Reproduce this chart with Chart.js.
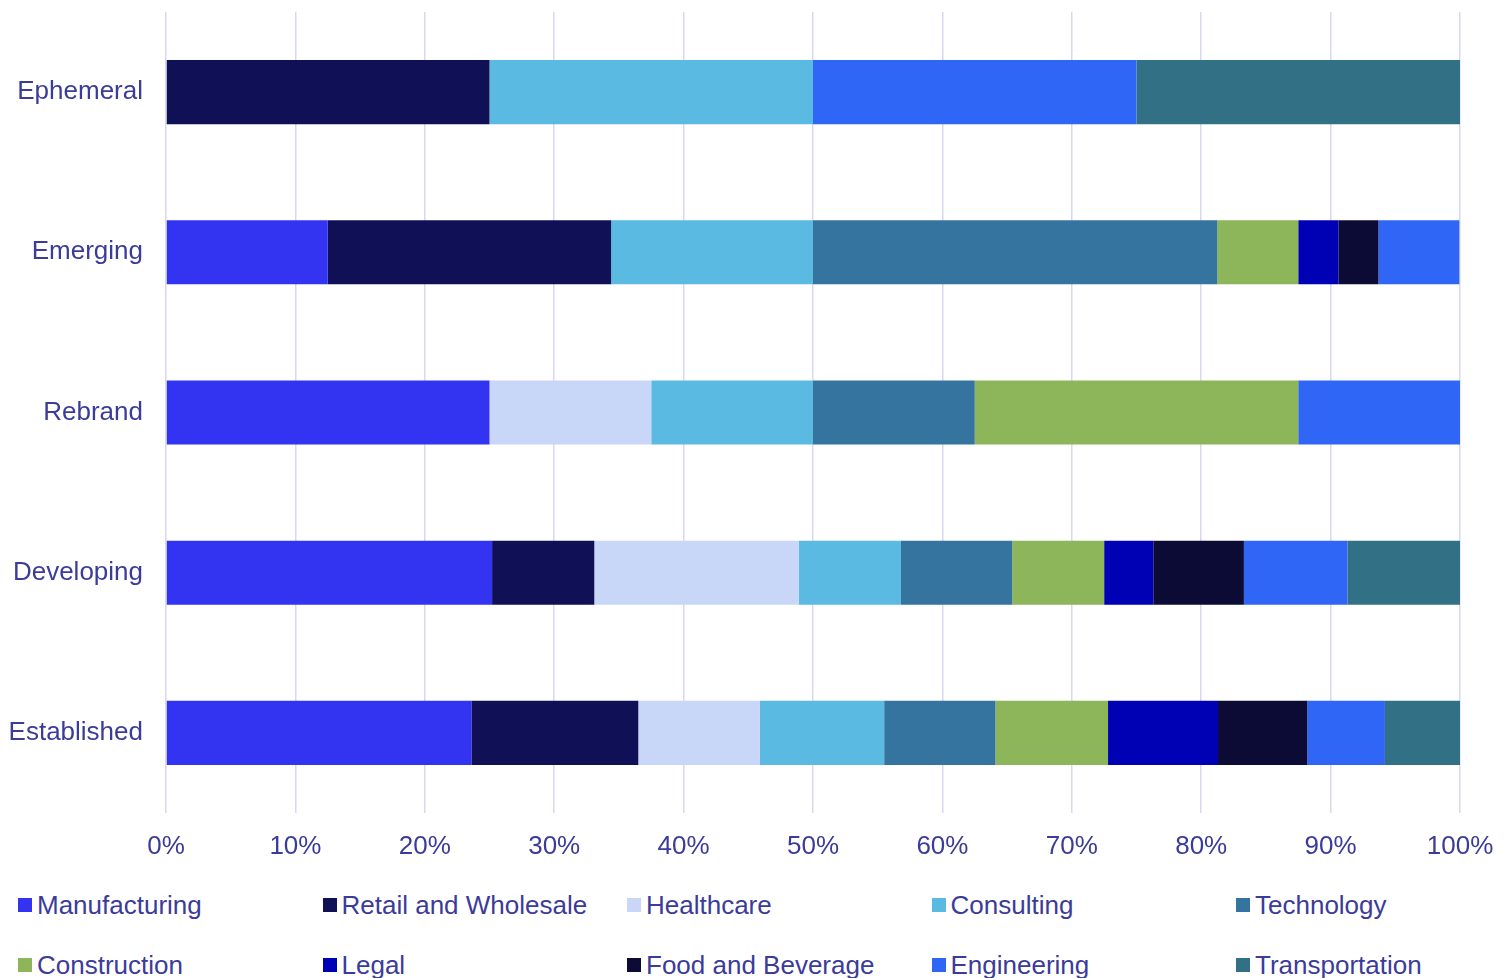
<!DOCTYPE html>
<html>
<head>
<meta charset="utf-8">
<script src="https://cdn.jsdelivr.net/npm/chart.js@4/dist/chart.umd.min.js"></script>
<style>
    html, body { margin: 0; padding: 0; background: #fff; overflow: hidden; }
    #wrap { position: relative; width: 1510px; height: 880px; }
    #legend {
        position: absolute; left: 18px; top: 886px;
        display: grid; grid-template-columns: repeat(5, 304.5px); row-gap: 22px;
        font-family: "Liberation Sans", Arial, sans-serif; font-size: 26px; color: #3B3B9A;
    }
    #legend .item { display: flex; align-items: center; height: 38px; white-space: nowrap; }
    #legend .box { width: 14px; height: 14px; margin-right: 5px; flex: none; }
</style>
</head>
<body>
<div id="wrap"><canvas id="chart"></canvas></div>
<div id="legend"></div>
<script>
// categories (top to bottom)
const categories = ['Ephemeral', 'Emerging', 'Rebrand', 'Developing', 'Established'];

// share of each industry per category, in %
const manufacturing  = [0,    12.5,  25,   25.2, 23.6];
const retail         = [25,   21.9,  0,    7.9,  12.9];
const healthcare     = [0,    0,     12.5, 15.8, 9.4];
const consulting     = [25,   15.6,  12.5, 7.9,  9.6];
const technology     = [0,    31.25, 12.5, 8.6,  8.6];
const construction   = [0,    6.25,  25,   7.1,  8.7];
const legal          = [0,    3.1,   0,    3.8,  8.5];
const foodBeverage   = [0,    3.1,   0,    7.0,  6.9];
const engineering    = [25,   6.25,  12.5, 8.0,  6.0];
const transportation = [25,   0,     0,    8.7,  5.8];

const xTicks = [0, 10, 20, 30, 40, 50, 60, 70, 80, 90, 100];

const series = [
    { label: 'Manufacturing',       data: manufacturing,  color: '#3333F2' },
    { label: 'Retail and Wholesale', data: retail,        color: '#0F1055' },
    { label: 'Healthcare',          data: healthcare,     color: '#C8D7F8' },
    { label: 'Consulting',          data: consulting,     color: '#5ABAE2' },
    { label: 'Technology',          data: technology,     color: '#35749F' },
    { label: 'Construction',        data: construction,   color: '#8DB55A' },
    { label: 'Legal',               data: legal,          color: '#0000B4' },
    { label: 'Food and Beverage',   data: foodBeverage,   color: '#0B0B36' },
    { label: 'Engineering',         data: engineering,    color: '#2F66F5' },
    { label: 'Transportation',      data: transportation, color: '#327086' }
];

const textColor = '#3B3B9A';
const gridColor = '#D8D8F0';
const font = { family: '"Liberation Sans", Arial, sans-serif', size: 26 };

// drop the auto label padding so the plot box sits where the reference has it
function noPad(axis) {
    axis.paddingTop = 0;
    axis.paddingBottom = 0;
    axis.paddingLeft = 0;
    axis.paddingRight = 0;
}

new Chart(document.getElementById('chart'), {
    type: 'bar',
    data: {
        labels: categories,
        datasets: series.map(s => ({
            label: s.label,
            data: s.data,
            backgroundColor: s.color,
            borderWidth: 0,
            categoryPercentage: 1,
            barPercentage: 0.4
        }))
    },
    options: {
        indexAxis: 'y',
        responsive: true,
        maintainAspectRatio: false,
        animation: false,
        layout: { padding: { top: 12, left: 0, right: 50, bottom: 0 } },
        plugins: {
            legend: { display: false },
            tooltip: { enabled: false }
        },
        scales: {
            x: {
                stacked: true,
                min: 0,
                max: 100,
                afterBuildTicks: axis => { axis.ticks = xTicks.map(v => ({ value: v })); },
                afterFit: axis => { noPad(axis); axis.height = 67; },
                ticks: { color: textColor, font: font, padding: 18, callback: v => v + '%' },
                grid: { color: gridColor, lineWidth: 1.5, drawTicks: false },
                border: { display: false }
            },
            y: {
                stacked: true,
                afterFit: axis => { noPad(axis); axis.width = 166; },
                ticks: { color: textColor, font: font, padding: 23 },
                grid: { display: false, drawTicks: false },
                border: { display: false }
            }
        }
    }
});

// legend: 2 rows x 5 columns
let legend = document.getElementById('legend');
series.forEach(s => {
    legend.innerHTML += `<div class="item"><span class="box" style="background:${s.color}"></span><span>${s.label}</span></div>`;
});
</script>
</body>
</html>
